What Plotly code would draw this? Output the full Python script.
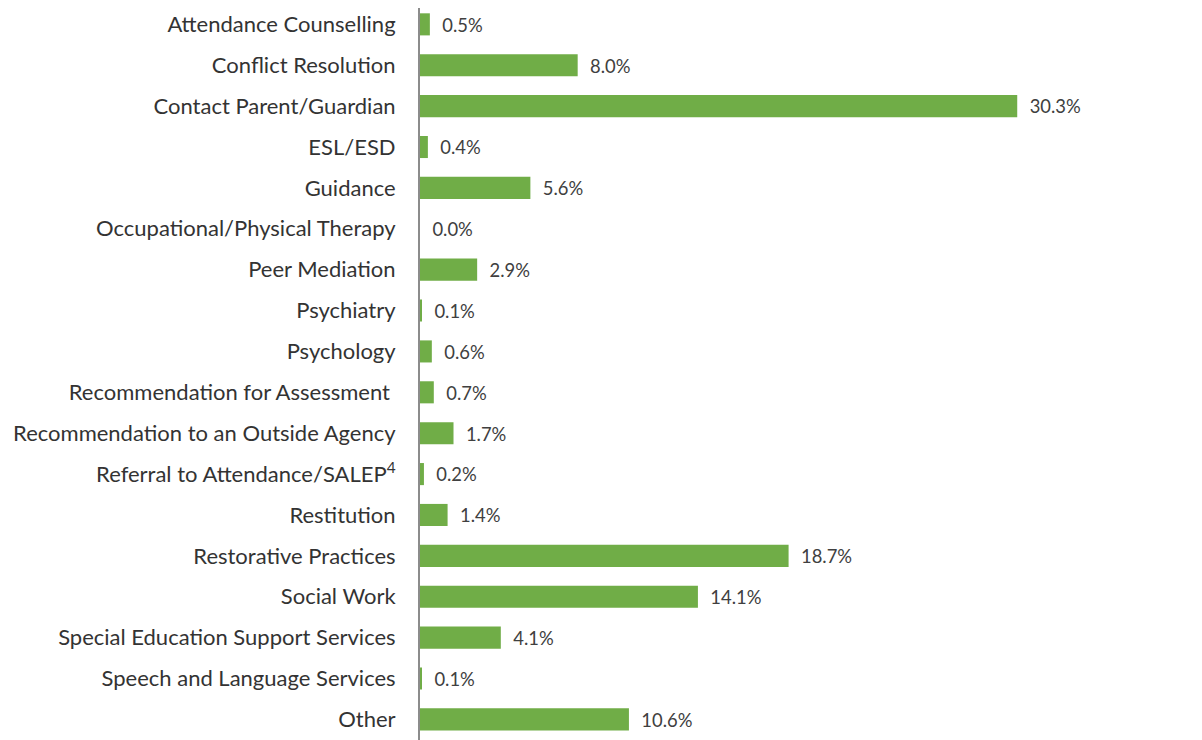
import plotly.graph_objects as go

categories = [
    "Attendance Counselling",
    "Conflict Resolution",
    "Contact Parent/Guardian",
    "ESL/ESD",
    "Guidance",
    "Occupational/Physical Therapy",
    "Peer Mediation",
    "Psychiatry",
    "Psychology",
    "Recommendation for Assessment\u00a0",
    "Recommendation to an Outside Agency",
    "Referral to Attendance/SALEP<sup>4</sup>",
    "Restitution",
    "Restorative Practices",
    "Social Work",
    "Special Education Support Services",
    "Speech and Language Services",
    "Other",
]
values = [0.5, 8.0, 30.3, 0.4, 5.6, 0.0, 2.9, 0.1, 0.6, 0.7, 1.7, 0.2, 1.4, 18.7, 14.1, 4.1, 0.1, 10.6]
labels = [f"\u00a0\u00a0{v:.1f}%" for v in values]

FONT = "Lato, Carlito, Calibri, sans-serif"

fig = go.Figure(
    go.Bar(
        x=values,
        y=categories,
        orientation="h",
        marker=dict(color="#70AD47", line=dict(width=0)),
        text=labels,
        textposition="outside",
        cliponaxis=False,
        textfont=dict(family=FONT, size=20, color="#404040"),
    )
)

fig.update_layout(
    width=1202,
    height=740,
    margin=dict(l=412, r=41, t=0, b=0),
    paper_bgcolor="white",
    plot_bgcolor="white",
    bargap=0.46,
    showlegend=False,
    font=dict(family=FONT, size=20, color="#404040"),
)
fig.update_xaxes(range=[0, 38], visible=False, showgrid=False, zeroline=False)
fig.update_yaxes(
    range=[17.7, -0.4],
    showline=True,
    linecolor="#8c8c8c",
    linewidth=2,
    showgrid=False,
    zeroline=False,
    ticks="",
    ticklabelstandoff=18,
    tickfont=dict(family=FONT, size=22, color="#333333"),
)

fig.write_html("out.html")
